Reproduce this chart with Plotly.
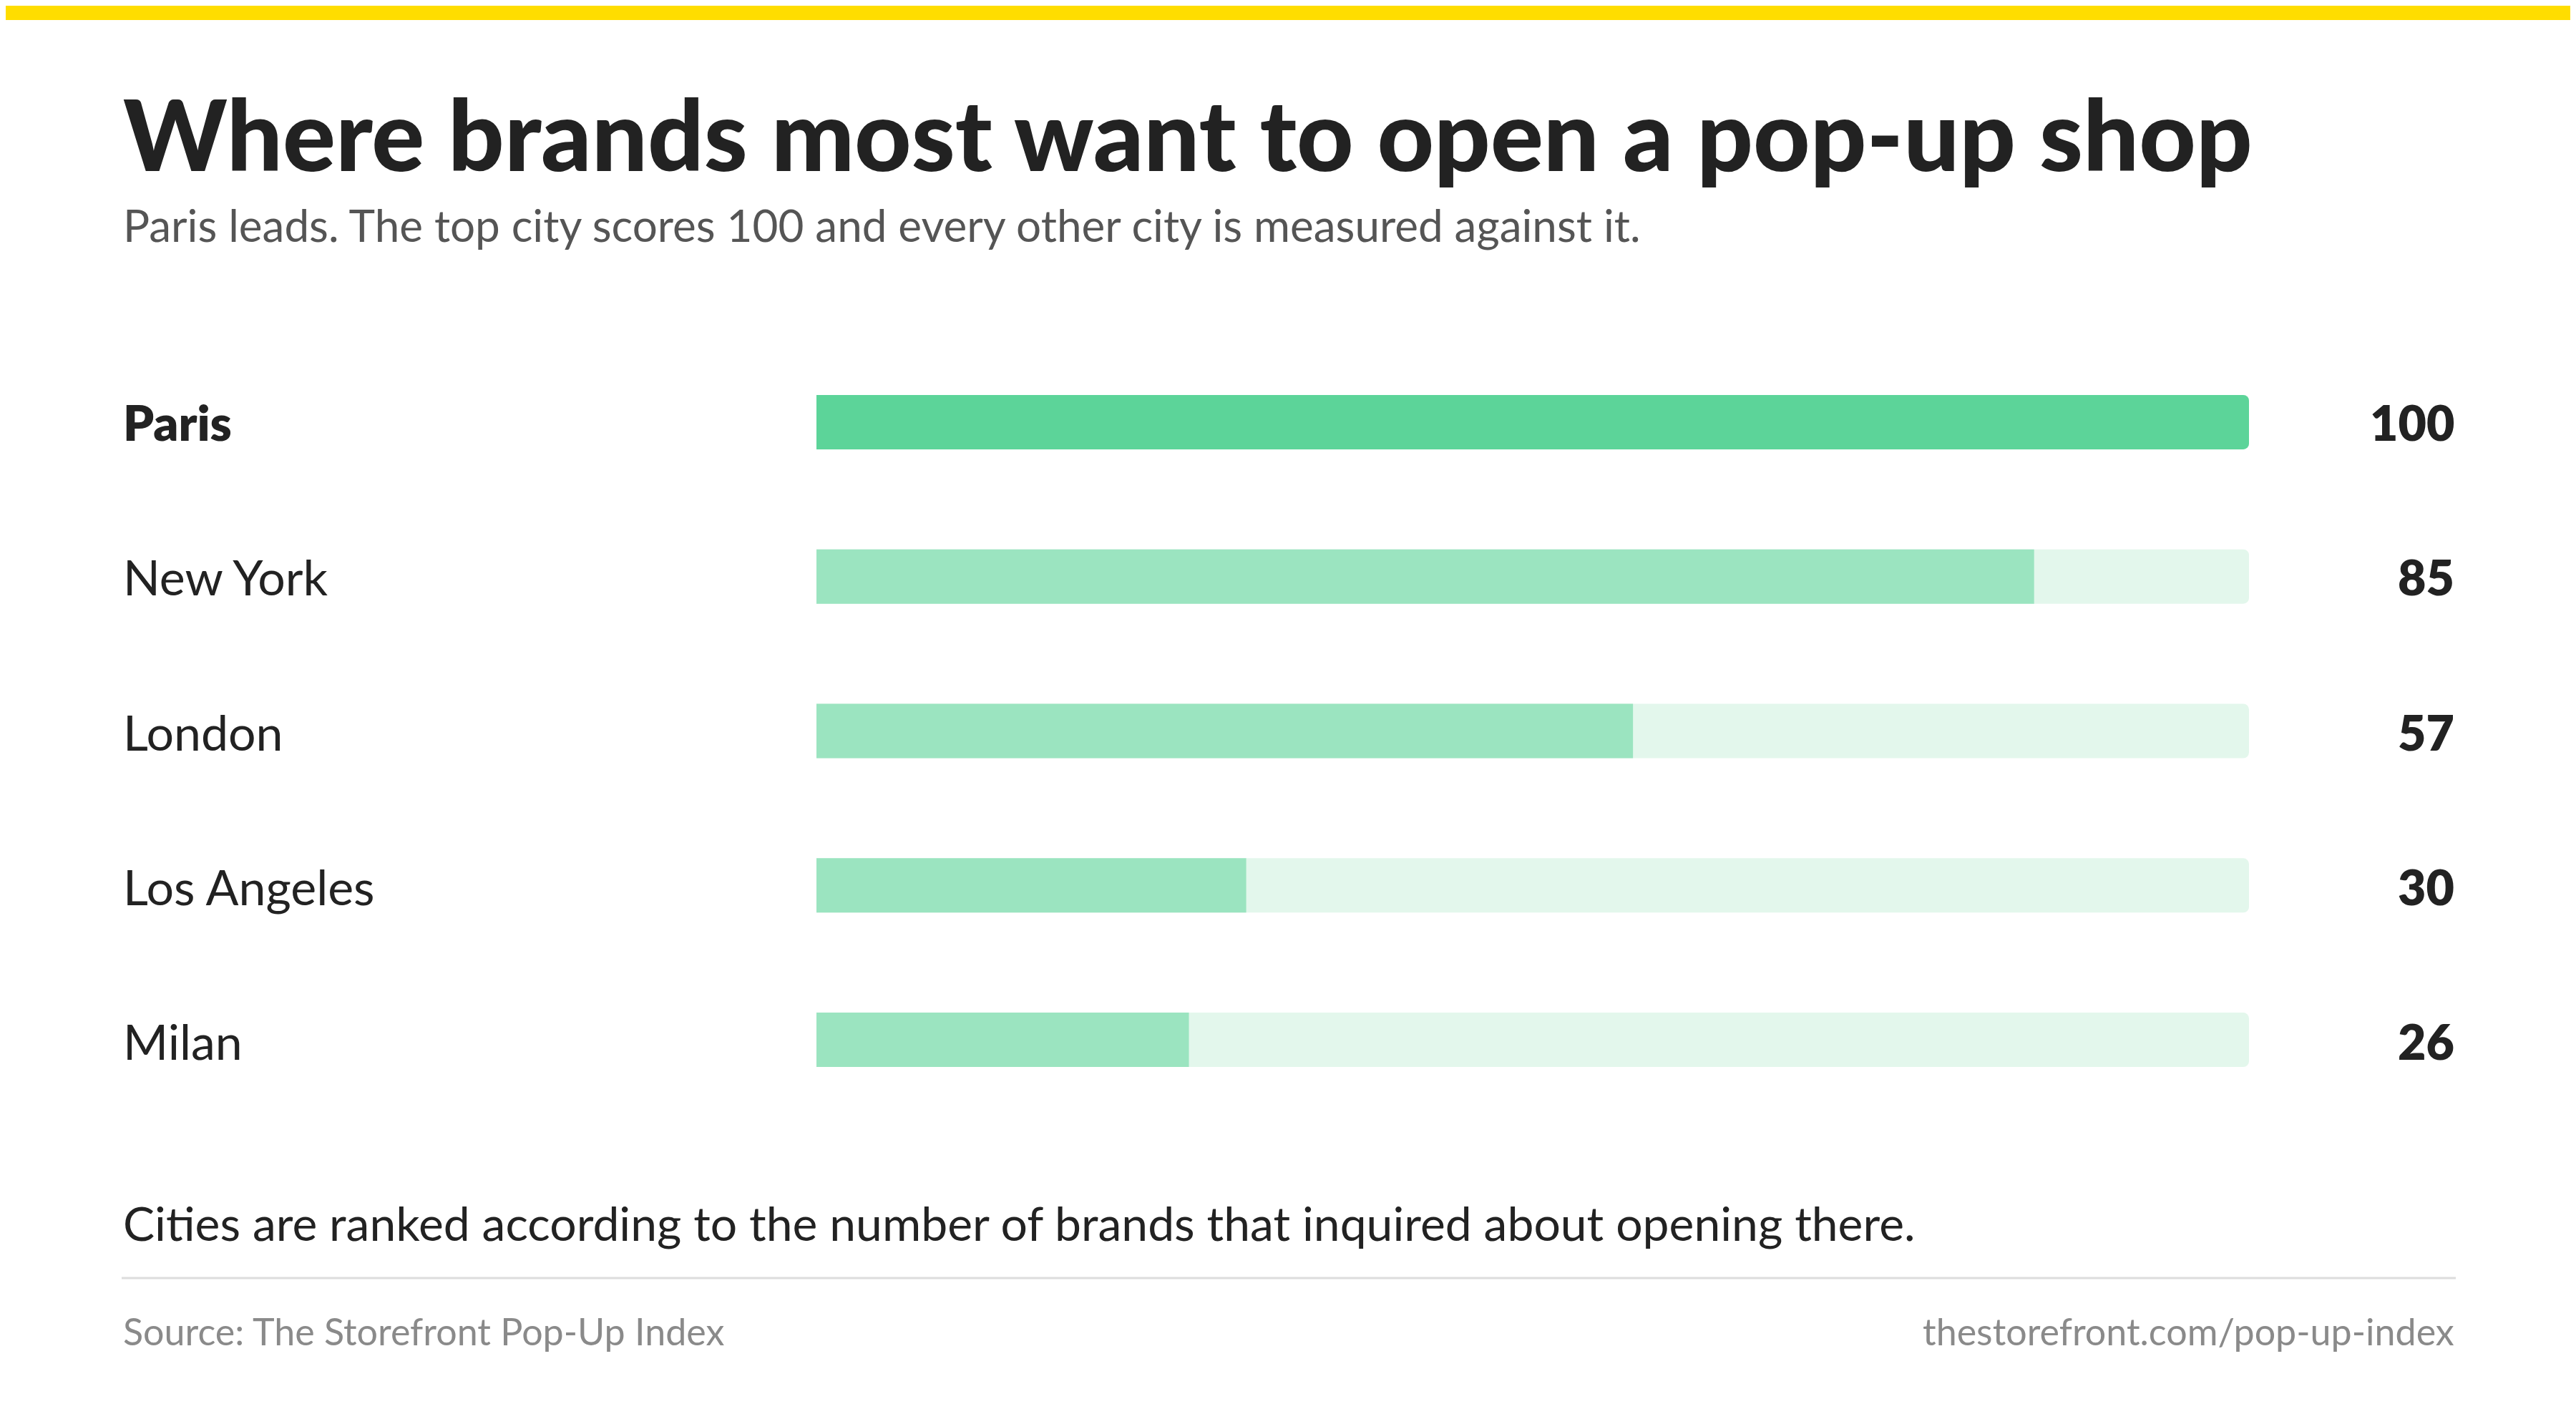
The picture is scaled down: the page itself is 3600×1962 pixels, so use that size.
import plotly.graph_objects as go

cities = ["Paris", "New York", "London", "Los Angeles", "Milan"]
scores = [100, 85, 57, 30, 26]
max_score = 100

W, H = 3600, 1962
OFF = 8  # browser body margin
FONT = "Lato"
DARK = "#222222"
GREY = "#8a8a8a"


def px(v):
    return (v - OFF) / W


def py(v):
    return 1 - (v - OFF) / H


fig = go.Figure()
pos = list(range(len(cities)))

# light track behind each bar
fig.add_trace(go.Bar(x=[max_score] * len(cities), y=pos, orientation="h",
                     marker=dict(color="#E3F7EC", line_width=0), width=0.352,
                     hoverinfo="skip"))
colors = ["#5CD499" if i == 0 else "#9BE4C0" for i in pos]
fig.add_trace(go.Bar(x=scores, y=pos, orientation="h",
                     marker=dict(color=colors, line_width=0), width=0.352))

ann = []
for i, (c, s) in enumerate(zip(cities, scores)):
    yp = py(590 + 216 * i)
    ann.append(dict(x=px(170), y=yp, xref="paper", yref="paper", text=c,
                    showarrow=False, xanchor="left", yanchor="middle",
                    font=dict(family=FONT, size=68, color=DARK,
                              weight=800 if i == 0 else 400)))
    ann.append(dict(x=px(3432), y=yp, xref="paper", yref="paper", text=str(s),
                    showarrow=False, xanchor="right", yanchor="middle",
                    font=dict(family=FONT, size=68, color=DARK, weight=800)))

ann += [
    dict(x=px(170), y=py(186), text="Where brands most want to open a pop-up shop",
         font=dict(family=FONT, size=138, color=DARK, weight=900)),
    dict(x=px(170), y=py(314),
         text="Paris leads. The top city scores 100 and every other city is measured against it.",
         font=dict(family=FONT, size=62, color="#555555")),
    dict(x=px(170), y=py(1708),
         text="Cities are ranked according to the number of brands that inquired about opening there.",
         font=dict(family=FONT, size=66, color=DARK)),
    dict(x=px(170), y=py(1860), text="Source: The Storefront Pop-Up Index",
         font=dict(family=FONT, size=52, color=GREY)),
    dict(x=px(3432), y=py(1860), text="thestorefront.com/pop-up-index", xanchor="right",
         font=dict(family=FONT, size=52, color=GREY)),
]
for a in ann[-5:]:
    a.update(xref="paper", yref="paper", showarrow=False, yanchor="middle")
    a.setdefault("xanchor", "left")

fig.update_layout(
    width=W, height=H, margin=dict(l=0, r=0, t=0, b=0),
    paper_bgcolor="white", plot_bgcolor="white",
    barmode="overlay", barcornerradius=8, showlegend=False,
    xaxis=dict(domain=[px(1141), px(3143)], range=[0, max_score], visible=False),
    yaxis=dict(domain=[py(1453 + 108), py(590 - 108)], range=[4.5, -0.5], visible=False),
    annotations=ann,
    shapes=[
        dict(type="rect", xref="paper", yref="paper", x0=-0.01, x1=1.01, y0=py(28), y1=1.01,
             fillcolor="#FFDD00", line_width=0),
        dict(type="line", xref="paper", yref="paper", x0=px(170), x1=px(3432),
             y0=py(1786), y1=py(1786), line=dict(color="#dddddd", width=3)),
    ],
)

fig.write_html("out.html")
